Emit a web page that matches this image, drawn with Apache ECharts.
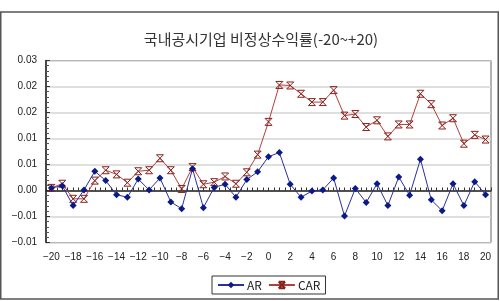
<!DOCTYPE html>
<html>
<head>
<meta charset="utf-8">
<script src="https://cdn.jsdelivr.net/npm/echarts@6/dist/echarts.min.js"></script>
<style>
  html, body { margin: 0; padding: 0; background: #fff; }
  #chart { width: 500px; height: 301px; }
</style>
</head>
<body>
<div id="chart"></div>
<script>
const FONT = '"Noto Sans CJK KR", "DejaVu Sans", sans-serif';
const TITLE = "국내공시기업 비정상수익률(-20~+20)";

const days = [];
for (let d = -20; d <= 20; d++) days.push(String(d));

// abnormal return per event day
const ar = [
  0.0005, 0.0009, -0.0029, 0.0001, 0.0037, 0.0019, -0.0008, -0.0013, 0.0022, 0.0001,
  0.0024, -0.0022, -0.0035, 0.0042, -0.0033, 0.0006, 0.0012, -0.0013, 0.0021, 0.0036,
  0.0065, 0.0073, 0.0012, -0.0013, -0.0001, 0.0001, 0.0024, -0.0049, 0.0004, -0.0023,
  0.0013, -0.0029, 0.0026, -0.0009, 0.0060, -0.0018, -0.0039, 0.0013, -0.0029, 0.0017,
  -0.0008
];
// cumulative abnormal return
const car = [
  0.0005, 0.0013, -0.0016, -0.0016, 0.0019, 0.0039, 0.0031, 0.0015, 0.0037, 0.0039,
  0.0062, 0.0039, 0.0003, 0.0045, 0.0012, 0.0016, 0.0027, 0.0013, 0.0035, 0.0069,
  0.0132, 0.0203, 0.0202, 0.0186, 0.0170, 0.0170, 0.0193, 0.0144, 0.0147, 0.0122,
  0.0135, 0.0104, 0.0127, 0.0127, 0.0186, 0.0166, 0.0125, 0.0139, 0.0090, 0.0107,
  0.0098
];

// y ticks run -0.01..0.025 by 0.005, labels rounded to 2 places as in the source
const Y_MIN = -0.01, Y_MAX = 0.025, Y_STEP = 0.005;
const yLabels = ["-0.01", "-0.01", "0.00", "0.01", "0.01", "0.02", "0.02", "0.03"];

const chart = echarts.init(document.getElementById("chart"), null, { renderer: "canvas" });

chart.setOption({
  backgroundColor: "#fff",
  animation: false,
  textStyle: { fontFamily: FONT },
  title: {
    text: TITLE,
    left: 256,
    top: 27,
    textAlign: "center",
    textStyle: { fontSize: 15, fontWeight: "normal", color: "#333", fontFamily: FONT }
  },
  graphic: [
    {
      type: "rect",
      shape: { x: 0.75, y: 12, width: 497.5, height: 287 },
      style: { fill: "none", stroke: "#555", lineWidth: 1.5 },
      silent: true
    }
  ],
  grid: {
    left: 46, right: 9, top: 60.5, bottom: 58.5,
    show: true, borderColor: "#666", borderWidth: 1, backgroundColor: "transparent"
  },
  legend: {
    data: ["AR", "CAR"],
    left: 212,
    top: 276,
    orient: "horizontal",
    borderColor: "#333",
    borderWidth: 1,
    borderRadius: 0,
    padding: [3, 5, 3, 5],
    itemGap: 6,
    itemWidth: 26,
    itemHeight: 8,
    textStyle: { fontSize: 12, color: "#222", fontFamily: FONT, padding: [0, 0, 0, -2] }
  },
  xAxis: [
    {
      type: "category",
      data: days,
      boundaryGap: true,
      position: "bottom",
      axisLine: { onZero: false, show: false },
      axisTick: { show: false },
      axisLabel: {
        interval: 1,
        color: "#222",
        fontSize: 10,
        margin: 10,
        fontFamily: "Liberation Sans, sans-serif",
        formatter: (v) => v.replace("-", "\u2212")
      },
      splitLine: { show: false }
    },
    {
      // zero line with the fine tick marks, one every half day
      type: "value",
      min: -20.5,
      max: 20.5,
      interval: 0.5,
      position: "top",
      axisLine: { show: true, onZero: true, onZeroAxisIndex: 0, lineStyle: { color: "#222", width: 1.5 } },
      axisTick: { show: true, length: 3, lineStyle: { color: "#333", width: 1 } },
      axisLabel: { show: false },
      splitLine: { show: false },
      z: 4
    }
  ],
  yAxis: {
    type: "value",
    min: Y_MIN,
    max: Y_MAX,
    interval: Y_STEP,
    axisLine: { show: true, onZero: false, lineStyle: { color: "#222", width: 1.5 } },
    axisTick: { show: true, inside: true, length: 4, lineStyle: { color: "#333" } },
    minorTick: { show: true, splitNumber: 5, length: 3, lineStyle: { color: "#555" } },
    axisLabel: {
      color: "#222",
      fontSize: 10,
      margin: 9,
      fontFamily: "Liberation Sans, sans-serif",
      formatter: (v) => {
        const i = Math.round((v - Y_MIN) / Y_STEP);
        return (yLabels[i] || "").replace("-", "\u2212");
      }
    },
    splitLine: { show: true, lineStyle: { color: "#d4d4d4", width: 1.5 } }
  },
  series: [
    {
      name: "AR",
      type: "line",
      data: ar,
      xAxisIndex: 0,
      symbol: "diamond",
      symbolSize: 7,
      lineStyle: { color: "#2b3199", width: 1 },
      itemStyle: { color: "#0b1a86" },
      z: 5
    },
    {
      name: "CAR",
      type: "line",
      data: car,
      xAxisIndex: 0,
      symbol: "path://M0,0L10,0M0,10L10,10M0,0L10,10M10,0L0,10",
      symbolSize: 7,
      lineStyle: { color: "#b0403a", width: 1 },
      itemStyle: { color: "#8a1f1a", borderColor: "#8a1f1a", borderWidth: 1 },
      z: 4
    }
  ]
});
</script>
</body>
</html>
